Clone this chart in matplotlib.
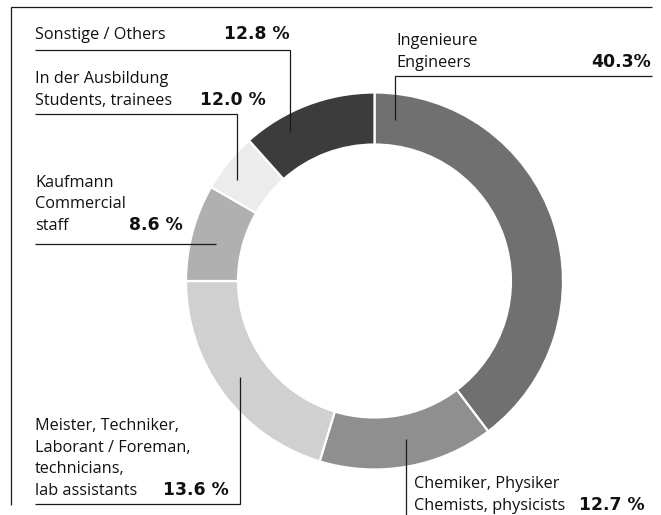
import matplotlib
matplotlib.use("Agg")
import matplotlib.pyplot as plt

# ---- data ----
categories = ["Ingenieure / Engineers", "Chemiker, Physiker / Chemists, physicists",
              "Meister, Techniker, Laborant / Foreman, technicians, lab assistants",
              "Kaufmann / Commercial staff", "In der Ausbildung / Students, trainees",
              "Sonstige / Others"]
# slice shares as drawn in the picture (percent)
shares = [39.7, 15.0, 20.3, 8.3, 5.1, 11.6]
# percentages as printed in the labels
label_pct = ["40.3%", "12.7 %", "13.6 %", "8.6 %", "12.0 %", "12.8 %"]
colors = ["#707070", "#8f8f8f", "#d0d0d0", "#b0b0b0", "#ececec", "#3c3c3c"]

W, H = 661, 515
fig = plt.figure(figsize=(W / 100, H / 100), dpi=100)
fig.patch.set_facecolor("white")

# donut
cx, cy, r = 374.5, 281.0, 188.5
pax = fig.add_axes([(cx - r) / W, (H - cy - r) / H, 2 * r / W, 2 * r / H])
pax.pie(shares, colors=colors, startangle=90, counterclock=False, radius=1,
        wedgeprops=dict(width=0.276, edgecolor="white", linewidth=1.6))
pax.set_xlim(-1, 1)
pax.set_ylim(-1, 1)
pax.set_aspect("auto")
pax.axis("off")

# overlay in pixel coordinates
ov = fig.add_axes([0, 0, 1, 1], zorder=5)
ov.set_xlim(0, W)
ov.set_ylim(H, 0)
ov.axis("off")
ov.patch.set_alpha(0)

FONT = "Open Sans"
fs = 11.7
fsb = 12.4
lw = 0.9
lc = "#1a1a1a"

def line(xs, ys):
    ov.plot(xs, ys, color=lc, lw=lw, solid_capstyle="butt", solid_joinstyle="miter")

def txt(x, y, s):
    ov.text(x, y, s, ha="left", va="baseline", fontsize=fs, family=FONT, color="#111111")

def pct(x, y, s):
    ov.text(x, y, s, ha="right", va="baseline", fontsize=fsb, fontweight="bold",
            family="DejaVu Sans", color="#111111")

# frame
line([10.5, 10.5, 652], [505, 7, 7])

# Sonstige / Others
txt(35, 39, "Sonstige / Others")
pct(290, 39, label_pct[5])
line([35, 290, 290], [49.5, 49.5, 131.5])

# In der Ausbildung
txt(35, 83, "In der Ausbildung")
txt(35, 105, "Students, trainees")
pct(266, 105, label_pct[4])
line([35, 237, 237], [113.5, 113.5, 180])

# Kaufmann
txt(35, 187, "Kaufmann")
txt(35, 208, "Commercial")
txt(35, 230, "staff")
pct(183, 230, label_pct[3])
line([35, 215.5], [244, 244])

# Ingenieure
txt(396, 45, "Ingenieure")
txt(396, 67, "Engineers")
pct(651, 67, label_pct[0])
line([652, 395, 395], [76, 76, 120])

# Meister
txt(35, 430, "Meister, Techniker,")
txt(35, 451.5, "Laborant / Foreman,")
txt(35, 473, "technicians,")
txt(35, 495, "lab assistants")
pct(229, 495, label_pct[2])
line([35, 239.5, 239.5], [504, 504, 377])

# Chemiker
txt(414, 488, "Chemiker, Physiker")
txt(414, 510, "Chemists, physicists")
pct(645, 510, label_pct[1])
line([406, 406], [439, 515])

fig.savefig("out.png", dpi=100, facecolor="white")
